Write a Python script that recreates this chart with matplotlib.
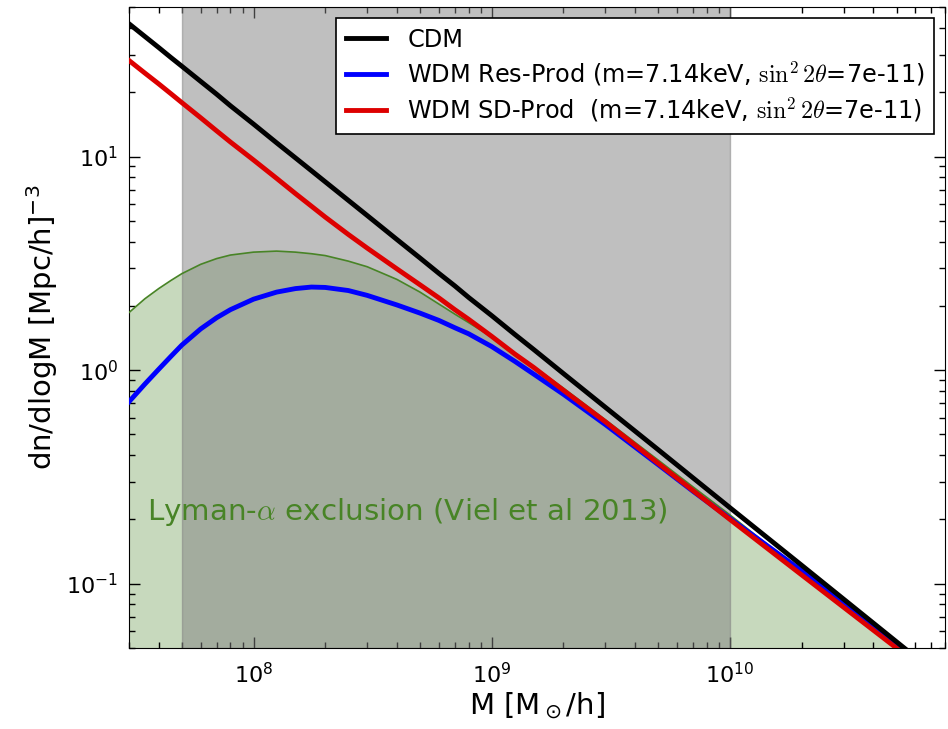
import matplotlib
matplotlib.use('Agg')
import matplotlib.pyplot as plt
from matplotlib.font_manager import FontProperties
import numpy as np

# halo mass [Msun/h]
mass = [3e7, 3.5e7, 4e7, 4.5e7, 5e7, 6e7, 7e7, 8e7, 1e8, 1.25e8, 1.5e8,
        1.75e8, 2e8, 2.5e8, 3e8, 4e8, 5e8, 6e8, 7e8, 8e8, 1e9, 1.25e9,
        1.5e9, 2e9, 3e9, 5e9, 7e9, 1e10, 2e10, 5e10, 8e10]

# dn/dlogM
cdm = [41.9, 36.5, 32.4, 29.1, 26.5, 22.5, 19.6, 17.3, 14.2, 11.6, 9.86,
       8.59, 7.62, 6.24, 5.30, 4.09, 3.35, 2.84, 2.48, 2.19, 1.80, 1.47,
       1.25, 0.964, 0.670, 0.424, 0.313, 0.227, 0.122, 0.0535, 0.0351]
res_prod = [0.711, 0.861, 1.01, 1.16, 1.31, 1.56, 1.76, 1.92, 2.15, 2.32, 2.41,
            2.45, 2.44, 2.36, 2.24, 2.02, 1.85, 1.71, 1.58, 1.48, 1.29, 1.10,
            0.959, 0.771, 0.556, 0.361, 0.271, 0.202, 0.115, 0.0518, 0.0341]
sd_prod = [28.2, 24.6, 21.9, 19.7, 17.9, 15.2, 13.2, 11.7, 9.64, 7.91, 6.71,
           5.86, 5.21, 4.32, 3.73, 2.98, 2.51, 2.18, 1.92, 1.73, 1.44, 1.19,
           1.03, 0.805, 0.573, 0.366, 0.273, 0.200, 0.110, 0.0500, 0.0331]
lyman = [1.86, 2.16, 2.41, 2.63, 2.83, 3.13, 3.33, 3.46, 3.57, 3.61, 3.57,
         3.51, 3.44, 3.24, 3.05, 2.66, 2.32, 2.04, 1.83, 1.67, 1.43, 1.20,
         1.04, 0.824, 0.586, 0.379, 0.284, 0.210, 0.1138, 0.0512, 0.0337]

# shaded mass range
band_lo, band_hi = 5e7, 1e10

labels = ['CDM',
          r'WDM Res-Prod (m=7.14keV, $\sin^2 2\theta$=7e-11)',
          r'WDM SD-Prod  (m=7.14keV, $\sin^2 2\theta$=7e-11)']

lygreen = '#488426'

fig = plt.figure(figsize=(9.48, 7.29), dpi=100)
ax = fig.add_axes([0.136, 0.111, 0.861, 0.879])

ax.fill_between(mass, 1e-3, lyman, color=lygreen, alpha=0.3, lw=0, zorder=1)
ax.axvspan(band_lo, band_hi, color='gray', alpha=0.5, zorder=2)
ax.plot(mass, lyman, color=lygreen, lw=1.2, zorder=3)

l2, = ax.plot(mass, res_prod, color='#0000ff', lw=3.5, zorder=4)
l3, = ax.plot(mass, sd_prod, color='#dd0000', lw=3.5, zorder=5)
l1, = ax.plot(mass, cdm, color='k', lw=3.5, zorder=6)

ax.set_xscale('log')
ax.set_yscale('log')
ax.set_xlim(3e7, 8e10)
ax.set_ylim(0.05, 50)

ax.tick_params(which='both', direction='in', top=True, right=True, labelsize=16)
ax.tick_params(which='major', length=8, width=1)
ax.tick_params(which='minor', length=4, width=1)
ax.tick_params(axis='x', pad=10)
ax.tick_params(axis='y', pad=8)

ax.set_xlabel(r'M [M$_\odot$/h]', fontsize=21, labelpad=2)
ax.set_ylabel(r'dn/dlogM [Mpc/h]$^{-3}$', fontsize=21, labelpad=4)

ax.text(0.022, 0.212, r'Lyman-$\alpha$ exclusion (Viel et al 2013)',
        transform=ax.transAxes, fontsize=21.2, color=lygreen, va='center',
        math_fontfamily='cm', zorder=7)

prop = FontProperties(size=17.3, math_fontfamily='cm')
leg = ax.legend([l1, l2, l3], labels, loc='upper right', prop=prop,
                fancybox=False, framealpha=1, edgecolor='k',
                handlelength=1.65, handletextpad=0.9, borderaxespad=0.45,
                labelspacing=0.33, borderpad=0.4)
leg.get_frame().set_linewidth(1.2)
leg.set_zorder(10)

fig.savefig('out.png', dpi=100)
